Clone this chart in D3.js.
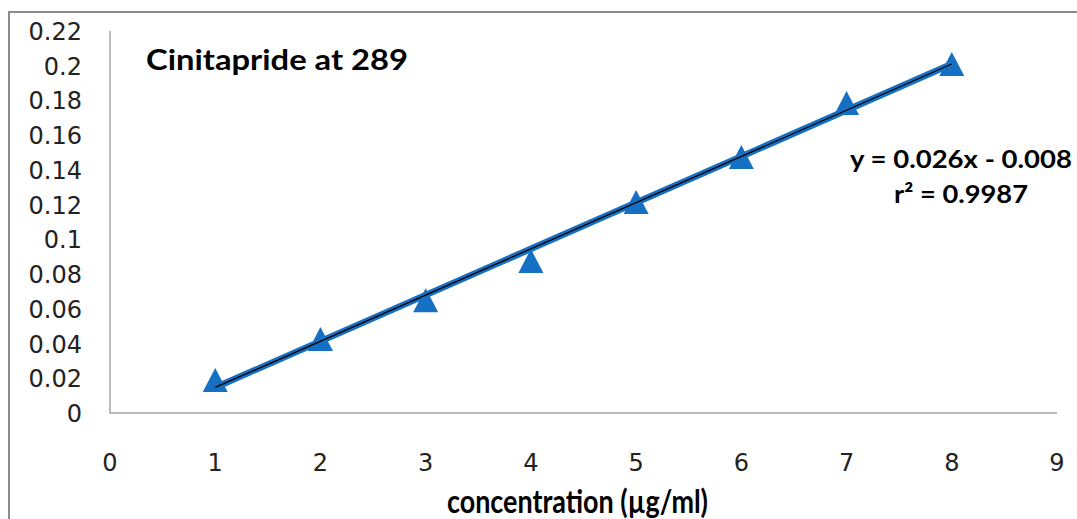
<!DOCTYPE html>
<html lang="en">
<head>
    <meta charset="UTF-8">
    <title>Cinitapride at 289</title>
    <script src="https://d3js.org/d3.v7.min.js"></script>
    <style>
        body {
            margin: 0;
            background: #ffffff;
            overflow: hidden;
        }
        .tick-label {
            font-family: "DejaVu Sans", sans-serif;
            font-size: 24px;
            fill: #222;
        }
        .bold-label {
            font-family: Lato, "Open Sans", sans-serif;
            font-weight: bold;
            fill: #000;
        }
    </style>
</head>
<body>
<script>
    // calibration points
    const concentration = [1, 2, 3, 4, 5, 6, 7, 8];
    const absorbance = [0.019, 0.0426, 0.065, 0.0876, 0.1215, 0.1475, 0.1786, 0.201];
    const xTicks = [0, 1, 2, 3, 4, 5, 6, 7, 8, 9];
    const yTicks = [0, 0.02, 0.04, 0.06, 0.08, 0.1, 0.12, 0.14, 0.16, 0.18, 0.2, 0.22];
    const chartTitle = "Cinitapride at 289";
    const xTitle = "concentration (µg/ml)";
    const equationLines = ["y = 0.026x - 0.008", "r² = 0.9987"];

    const width = 1077, height = 519;
    const blue = "#1570c4";

    const svg = d3.select("body").append("svg")
        .attr("width", width)
        .attr("height", height);

    // outer chart frame (only top and left edges show)
    svg.append("path")
        .attr("d", `M9,${height} V12 H${width}`)
        .attr("fill", "none")
        .attr("stroke", "#8c8c8c")
        .attr("stroke-width", 2);

    const x = d3.scaleLinear().domain([0, 9]).range([110, 1057]);
    const y = d3.scaleLinear().domain([0, 0.22]).range([413, 31]);

    // axis lines
    svg.append("path")
        .attr("d", `M${x(0)},${y(0.22)} V${y(0)} H${x(9)}`)
        .attr("fill", "none")
        .attr("stroke", "#a6a6a6")
        .attr("stroke-width", 1.5);

    svg.append("g").selectAll("text")
        .data(yTicks)
        .join("text")
        .attr("class", "tick-label")
        .attr("x", 82)
        .attr("y", d => y(d) + 2)
        .attr("text-anchor", "end")
        .attr("dominant-baseline", "middle")
        .text(d => d3.format("")(d));

    svg.append("g").selectAll("text")
        .data(xTicks)
        .join("text")
        .attr("class", "tick-label")
        .attr("x", d => x(d))
        .attr("y", 471)
        .attr("text-anchor", "middle")
        .text(d => d);

    // least squares fit, like the spreadsheet trendline
    const mx = d3.mean(concentration), my = d3.mean(absorbance);
    const sxy = d3.sum(concentration, (c, i) => (c - mx) * (absorbance[i] - my));
    const sxx = d3.sum(concentration, c => (c - mx) * (c - mx));
    const slope = sxy / sxx, intercept = my - slope * mx;
    const fitX = d3.extent(concentration);

    const fitLine = d3.line()
        .x(d => x(d))
        .y(d => y(slope * d + intercept));

    svg.append("path")
        .datum(fitX)
        .attr("d", fitLine)
        .attr("stroke", blue)
        .attr("stroke-width", 6.5)
        .attr("fill", "none");

    svg.append("g").selectAll("path")
        .data(concentration)
        .join("path")
        .attr("d", "M0,-12L12.5,12L-12.5,12Z")
        .attr("transform", (d, i) => `translate(${x(d)},${y(absorbance[i])})`)
        .attr("fill", blue);

    svg.append("path")
        .datum(fitX)
        .attr("d", fitLine)
        .attr("stroke", "#000")
        .attr("stroke-width", 1.3)
        .attr("fill", "none");

    svg.append("text")
        .attr("class", "bold-label")
        .attr("x", 146)
        .attr("y", 70)
        .attr("font-size", 29)
        .attr("textLength", 262)
        .attr("lengthAdjust", "spacingAndGlyphs")
        .text(chartTitle);

    svg.append("g").selectAll("text")
        .data(equationLines)
        .join("text")
        .attr("class", "bold-label")
        .attr("x", 961)
        .attr("y", (d, i) => 168 + i * 35)
        .attr("text-anchor", "middle")
        .attr("font-size", 24)
        .attr("textLength", (d, i) => i === 0 ? 222 : 134)
        .attr("lengthAdjust", "spacingAndGlyphs")
        .text(d => d);

    svg.append("text")
        .attr("class", "bold-label")
        .attr("x", 447)
        .attr("y", 513)
        .attr("font-size", 33)
        .attr("textLength", 261)
        .attr("lengthAdjust", "spacingAndGlyphs")
        .text(xTitle);
</script>
</body>
</html>
